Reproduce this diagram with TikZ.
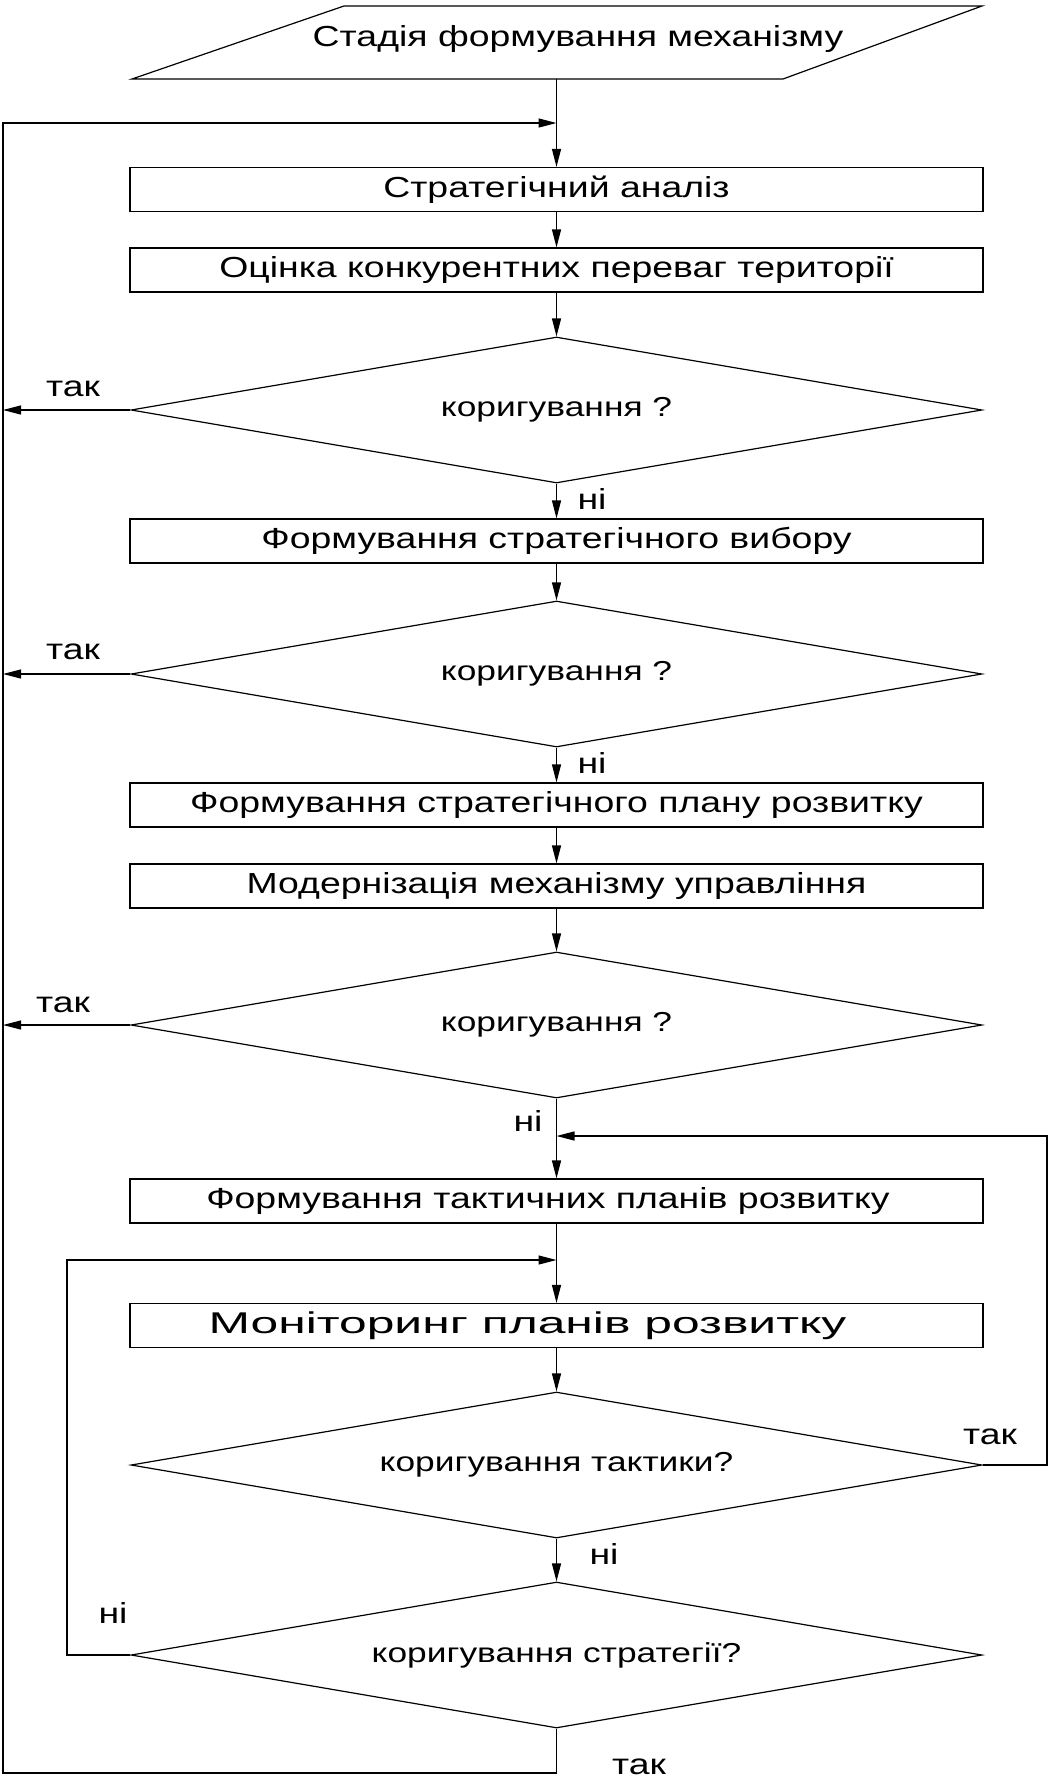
\documentclass[tikz,border=0pt]{standalone}
\usepackage{fontspec}
\setmainfont[FakeStretch=1.29]{Liberation Sans}
\newfontfamily\widefont[FakeStretch=1.66]{Liberation Sans}
\usetikzlibrary{shapes.geometric,arrows.meta}
\begin{document}
\begin{tikzpicture}[x=1pt,y=-1pt, line width=1.2pt,
  every node/.style={font=\fontsize{29}{31}\selectfont},
  box/.style={draw, rectangle, minimum width=853pt, minimum height=44pt, inner sep=0pt},
  dec/.style={draw, diamond, minimum width=851pt, minimum height=146pt, inner sep=0pt, aspect=5.83, font=\fontsize{27.4}{30}\selectfont},
  arr/.style={-{Triangle[length=18pt,width=9pt]}},
  lbl/.style={inner sep=0pt}]
\useasboundingbox (0,0) rectangle (1049,1780);
\coordinate (L) at (3,0);
\coordinate (R) at (1047,0);
\coordinate (Lin) at (67,0);
\coordinate (Bot) at (0,1773);
\coordinate (m1) at (556.5,123);
\coordinate (m2) at (556.5,1136);
\coordinate (m3) at (556.5,1260);
\coordinate (pb) at (556.5,79);
% start parallelogram
\draw (344,6) -- (982,6) -- (783,79) -- (132,79) -- cycle;
\node (p) at (578,39) {Стадія формування механізму};
% boxes and decisions
\node[box] (b1) at (556.5,189.5) {Стратегічний аналіз};
\node[box] (b2) at (556.5,270) {Оцінка конкурентних переваг території};
\node[dec] (d1) at (556.5,410) {коригування ?};
\node[box] (b3) at (556.5,541) {Формування стратегічного вибору};
\node[dec] (d2) at (556.5,674) {коригування ?};
\node[box] (b4) at (556.5,805) {Формування стратегічного плану розвитку};
\node[box] (b5) at (556.5,886) {Модернізація механізму управління};
\node[dec] (d3) at (556.5,1025) {коригування ?};
\node[box] (b6) at (556.5,1201) {};
\node (b6t) at (548,1201) {Формування тактичних планів розвитку};
\node[box] (b7) at (556.5,1325.5) {};
\node[font=\widefont\fontsize{30}{32}\selectfont] (b7t) at (527.5,1325.5) {Моніторинг планів розвитку};
\node[dec] (d4) at (556.5,1465) {коригування тактики?};
\node[dec] (d5) at (556.5,1655) {коригування стратегії?};
% connectors
\draw[arr] (pb) -- (b1.north);
\draw[arr] (b1.south) -- (b2.north);
\draw[arr] (b2.south) -- (d1.north);
\draw[arr] (d1.south) -- (b3.north);
\draw[arr] (d1.west) -- (d1.west -| L);
\draw[arr] (b3.south) -- (d2.north);
\draw[arr] (d2.south) -- (b4.north);
\draw[arr] (d2.west) -- (d2.west -| L);
\draw[arr] (b4.south) -- (b5.north);
\draw[arr] (b5.south) -- (d3.north);
\draw[arr] (d3.west) -- (d3.west -| L);
\draw[arr] (d3.south) -- (b6.north);
\draw[arr] (b6.south) -- (b7.north);
\draw[arr] (b7.south) -- (d4.north);
\draw[arr] (d4.south) -- (d5.north);
\draw[arr] (d4.east) -- (d4.east -| R) -- (m2 -| R) -- (m2);
\draw[arr] (d5.west) -- (d5.west -| Lin) -- (m3 -| Lin) -- (m3);
\draw[arr] (d5.south) -- (d5.south |- Bot) -- (Bot -| L) -- (m1 -| L) -- (m1);
% labels
\node[lbl] (y1) at (73,389) {так};
\node[lbl] (y2) at (73,652) {так};
\node[lbl] (y3) at (63,1005) {так};
\node[lbl] (n1) at (592,499) {ні};
\node[lbl] (n2) at (592,763) {ні};
\node[lbl] (n3) at (528,1121) {ні};
\node[lbl] (y4) at (990,1437) {так};
\node[lbl] (n4) at (604,1554) {ні};
\node[lbl] (n5) at (113,1613) {ні};
\node[lbl] (y5) at (639,1767) {так};
\end{tikzpicture}
\end{document}
